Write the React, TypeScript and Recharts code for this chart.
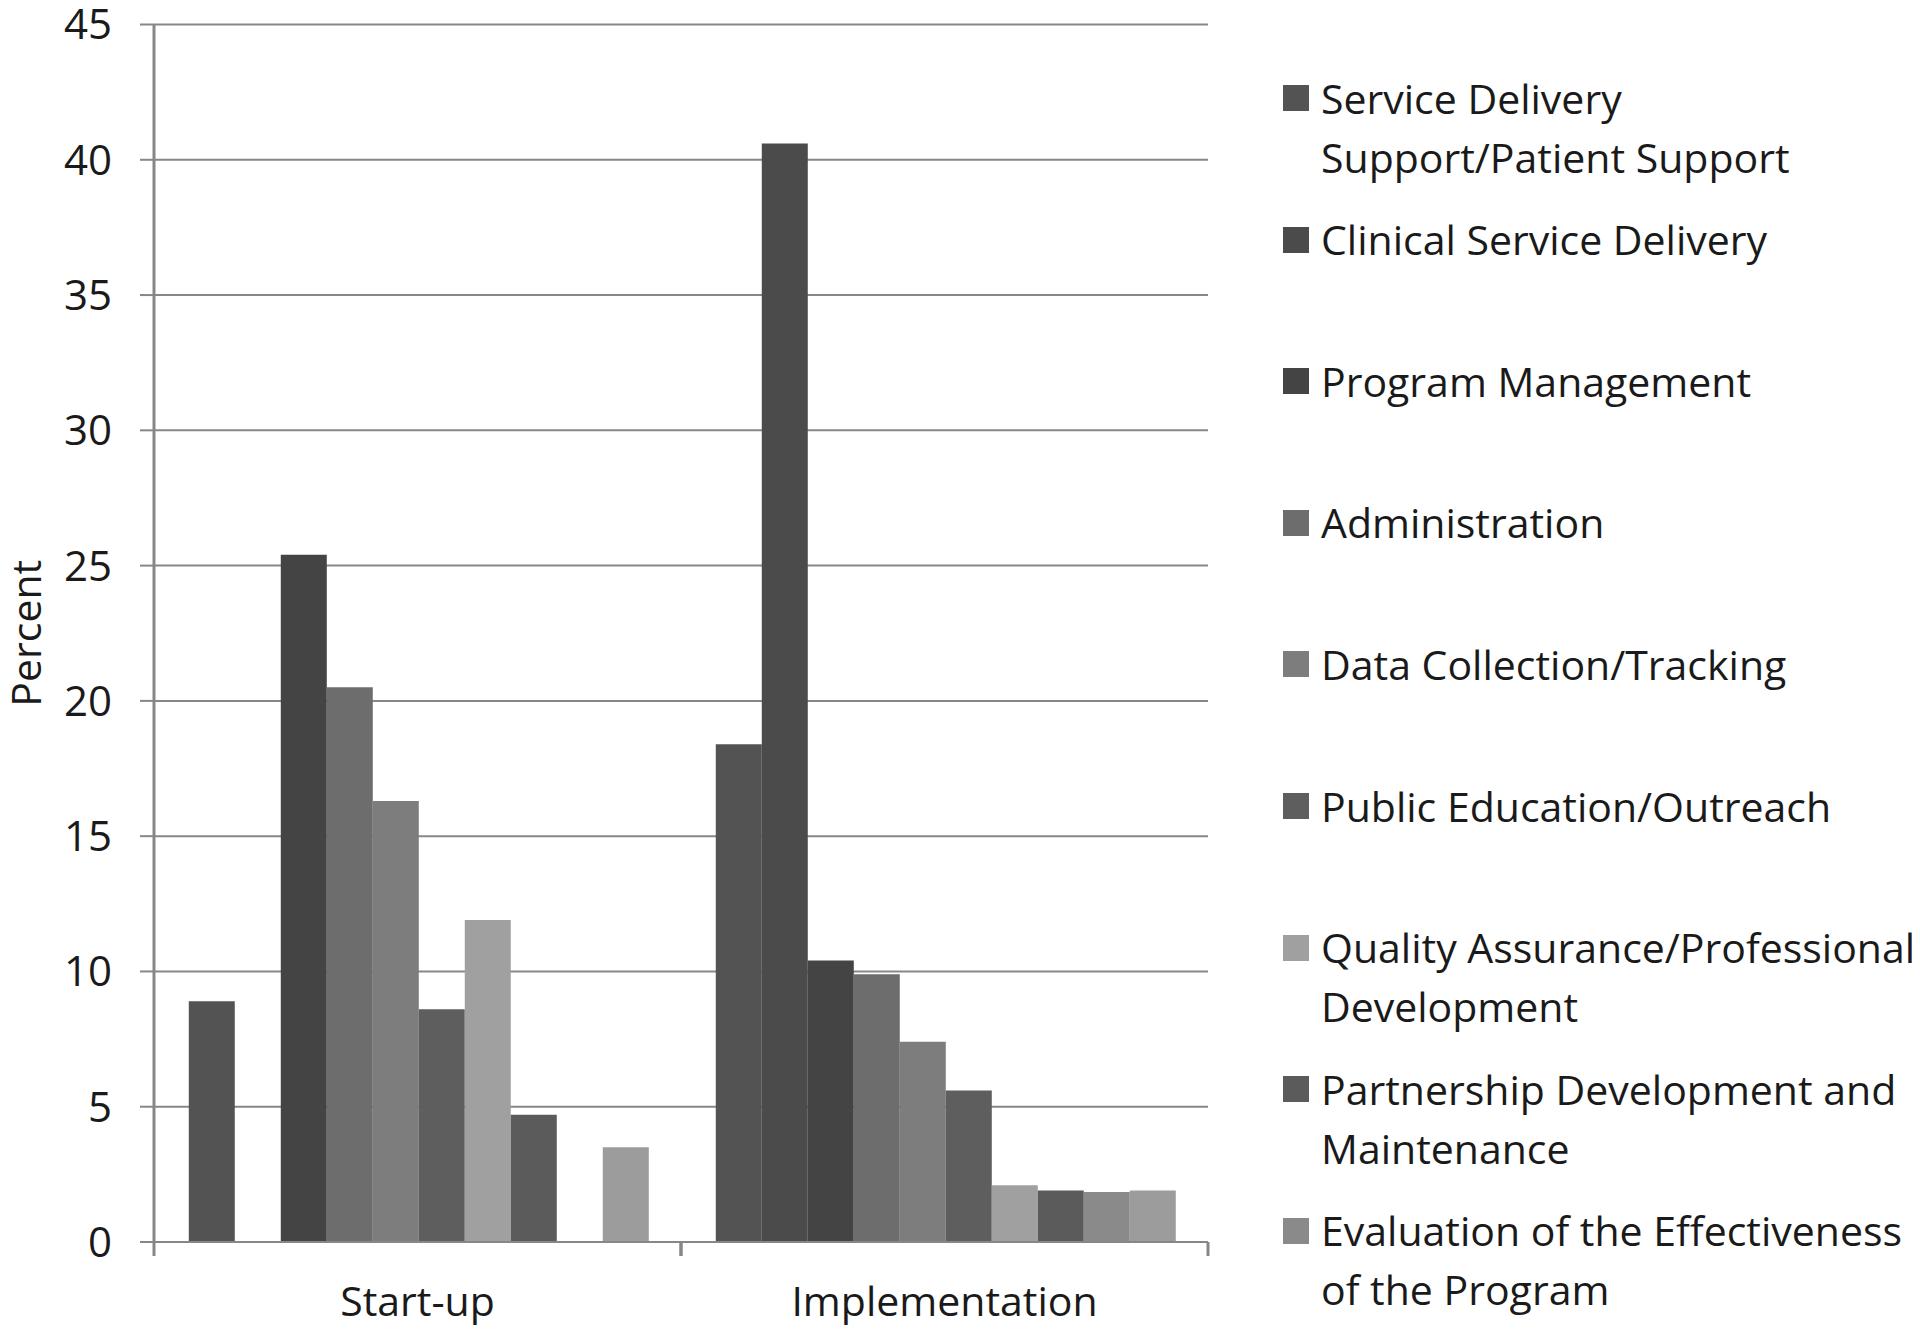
import React from 'react';
import { BarChart, Bar, XAxis, YAxis, CartesianGrid } from 'recharts';

const categories = ['Start-up', 'Implementation'];

const seriesNames = [
  'Service Delivery Support/Patient Support',
  'Clinical Service Delivery',
  'Program Management',
  'Administration',
  'Data Collection/Tracking',
  'Public Education/Outreach',
  'Quality Assurance/Professional Development',
  'Partnership Development and Maintenance',
  'Evaluation of the Effectiveness of the Program',
  'Other',
];

const startUpValues = [8.9, 0, 25.4, 20.5, 16.3, 8.6, 11.9, 4.7, 0, 3.5];
const implementationValues = [18.4, 40.6, 10.4, 9.9, 7.4, 5.6, 2.1, 1.9, 1.85, 1.9];

const seriesColors = [
  '#535353', '#4b4b4b', '#444444', '#6d6d6d', '#7d7d7d',
  '#5e5e5e', '#a0a0a0', '#5b5b5b', '#8a8a8a', '#9c9c9c',
];

const legendLines = [
  ['Service Delivery', 'Support/Patient Support'],
  ['Clinical Service Delivery'],
  ['Program Management'],
  ['Administration'],
  ['Data Collection/Tracking'],
  ['Public Education/Outreach'],
  ['Quality Assurance/Professional', 'Development'],
  ['Partnership Development and', 'Maintenance'],
  ['Evaluation of the Effectiveness', 'of the Program'],
];

const yTicks = [0, 5, 10, 15, 20, 25, 30, 35, 40, 45];

const valuesByCategory = [startUpValues, implementationValues];
const data = categories.map((c, i) => {
  const row: Record<string, any> = { category: c };
  seriesNames.forEach((_, j) => {
    row['s' + j] = valuesByCategory[i][j];
  });
  return row;
});

const FONT = '"Open Sans", sans-serif';
const X_TICK_MARGIN = 45;
const EDGE_TICK = 14;

const YLabel = (props: any) => {
  const vb = props.viewBox || {};
  const cy = (vb.y || 0) + (vb.height || 0) / 2;
  return (
    <text
      x={25}
      y={cy}
      transform={`rotate(-90, 25, ${cy})`}
      textAnchor="middle"
      dominantBaseline="central"
      fontFamily={FONT}
      fontSize={41}
      fill="#1a1a1a"
    >
      Percent
    </text>
  );
};

const CategoryTick = (props: any) => {
  const { x, y, payload } = props;
  const half = payload && payload.offset ? payload.offset : 0;
  const axisY = y - X_TICK_MARGIN;
  return (
    <g>
      <line x1={x - half} x2={x - half} y1={axisY} y2={axisY + EDGE_TICK} stroke="#878787" strokeWidth={3} />
      <line x1={x + half} x2={x + half} y1={axisY} y2={axisY + EDGE_TICK} stroke="#878787" strokeWidth={3} />
      <text x={x} y={y} dy="0.71em" textAnchor="middle" fontFamily={FONT} fontSize={41} fill="#1a1a1a">
        {payload.value}
      </text>
    </g>
  );
};

export default function App() {
  return (
    <div style={{ position: 'relative', width: 1920, height: 1333, margin: -8, background: '#fff' }}>
      <style>{'.recharts-surface { overflow: visible; }'}</style>
      <BarChart
        width={1920}
        height={1333}
        data={data}
        margin={{ top: 24.5, right: 712, bottom: 0, left: 0 }}
        barCategoryGap="6.6%"
        barGap={0}
      >
        <CartesianGrid vertical={false} stroke="#878787" strokeWidth={2} />
        <XAxis
          dataKey="category"
          tickLine={false}
          tickSize={0}
          tickMargin={X_TICK_MARGIN}
          height={91}
          axisLine={{ stroke: '#878787', strokeWidth: 2 }}
          tick={<CategoryTick />}
        />
        <YAxis
          domain={[0, 45]}
          ticks={yTicks}
          width={154}
          tickSize={14}
          tickMargin={28}
          tickLine={{ stroke: '#878787', strokeWidth: 2 }}
          axisLine={{ stroke: '#878787', strokeWidth: 3 }}
          tick={{ fontFamily: FONT, fontSize: 42, fill: '#1a1a1a' }}
          label={<YLabel />}
        />
        {seriesNames.map((name, j) => (
          <Bar
            key={name}
            dataKey={'s' + j}
            name={name}
            fill={seriesColors[j]}
            isAnimationActive={false}
          />
        ))}
      </BarChart>
      {legendLines.map((lines, i) => {
        const cy = 98 + 141.6 * i;
        return (
          <div key={i}>
            <div
              style={{
                position: 'absolute',
                left: 1283,
                top: cy - 13,
                width: 26,
                height: 26,
                background: seriesColors[i],
              }}
            />
            <div
              style={{
                position: 'absolute',
                left: 1321,
                top: cy - 29.5,
                fontFamily: FONT,
                fontSize: 41,
                lineHeight: '59px',
                color: '#1a1a1a',
                whiteSpace: 'nowrap',
              }}
            >
              {lines.map((l, k) => (
                <div key={k}>{l}</div>
              ))}
            </div>
          </div>
        );
      })}
    </div>
  );
}
